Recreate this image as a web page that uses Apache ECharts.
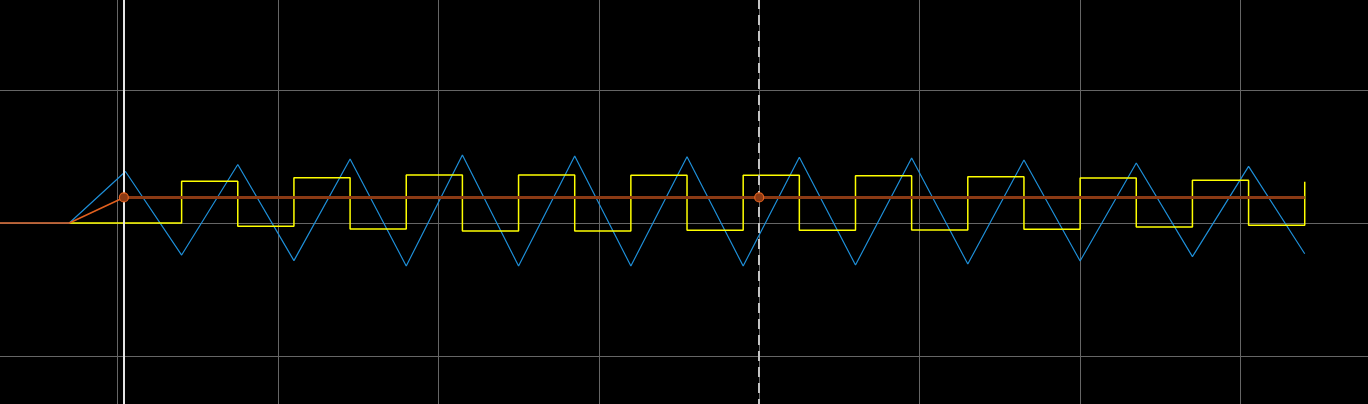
<!DOCTYPE html>
<html><head><meta charset="utf-8">
<style>
html,body{margin:0;padding:0;background:#000;overflow:hidden;width:1368px;height:404px;}
#c{position:absolute;left:-43px;top:-43px;width:1444px;height:532px;}
</style>
<script src="https://cdn.jsdelivr.net/npm/echarts@6/dist/echarts.min.js"></script>
</head><body><div id="c"></div>
<script>
// triangle trace (blue)
const triX = [-8,-3,0.5,4,7.5,11,14.5,18,21.5,25,28.5,32,35.5,39,42.5,46,49.5,53,56.5,60,63.5,67,70.5,74];
const triY = [0,0,0.387,-0.241,0.44,-0.283,0.481,-0.323,0.511,-0.323,0.504,-0.323,0.498,-0.323,0.494,-0.316,0.489,-0.308,0.474,-0.286,0.451,-0.253,0.426,-0.231];
// square trace (yellow), step values
const sqX = [-3,4,7.5,11,14.5,18,21.5,25,28.5,32,35.5,39,42.5,46,49.5,53,56.5,60,63.5,67,70.5,74];
const sqY = [0,0.314,-0.025,0.341,-0.045,0.361,-0.06,0.361,-0.06,0.359,-0.055,0.359,-0.055,0.356,-0.053,0.348,-0.047,0.338,-0.03,0.321,-0.017,0.311];
// orange ramp
const rampX = [-8,-3,0.4];
const rampY = [0,0,0.192];
// brown level with markers
const levelX = [0.4,40,74];
const levelY = [0.192,0.192,0.192];
const levelMarked = [true,true,false];
// cursors
const cursorSolid = 0.4;
const cursorDashed = 40;

const zip = (xs, ys) => xs.map((x,i)=>[x, ys[i]]);
const chart = echarts.init(document.getElementById('c'), null, {renderer:'canvas'});
chart.setOption({
  backgroundColor:'#000',
  animation:false,
  grid:{left:0, top:0, right:0, bottom:0, containLabel:false},
  xAxis:{type:'value', min:-10, max:80, interval:10,
    axisLine:{show:false}, axisTick:{show:false}, axisLabel:{show:false},
    splitLine:{show:true, lineStyle:{color:'#666', width:1}}},
  yAxis:{type:'value', min:-2, max:2, interval:1,
    axisLine:{show:false}, axisTick:{show:false}, axisLabel:{show:false},
    splitLine:{show:true, lineStyle:{color:'#666', width:1}}},
  series:[
    {type:'line', data:zip(triX,triY), showSymbol:false, symbol:'none', z:2,
     lineStyle:{color:'#1e8fd8', width:1.2},
     markLine:{silent:true, symbol:'none', label:{show:false},
       data:[
         {xAxis:cursorSolid, lineStyle:{color:'#e6e6e6', width:2, type:'solid'}},
         {xAxis:cursorDashed, lineStyle:{color:'#c4c4c4', width:2, type:[10,6]}}
       ]}},
    {type:'line', data:zip(sqX,sqY), step:'end', showSymbol:false, symbol:'none', z:3,
     lineStyle:{color:'#ffff00', width:1.5}},
    {type:'line', data:zip(rampX,rampY), showSymbol:false, symbol:'none', z:4,
     lineStyle:{color:'#e2601e', width:1.5}},
    {type:'line', z:5,
     data:levelX.map((x,i)=>({value:[x,levelY[i]], symbol: levelMarked[i]?'circle':'none'})),
     symbol:'circle', symbolSize:9, showSymbol:true,
     itemStyle:{color:'#8b3a14', borderColor:'#e2601e', borderWidth:1.2},
     lineStyle:{color:'#8b3a14', width:3}}
  ]
});
</script></body></html>
